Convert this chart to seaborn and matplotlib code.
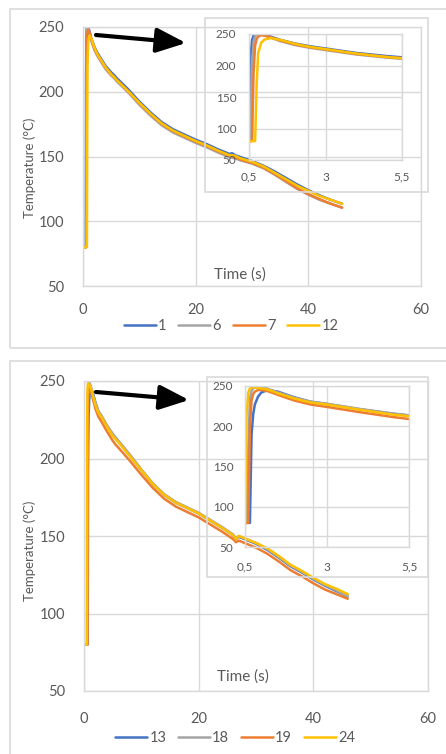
import matplotlib
matplotlib.use("Agg")
import matplotlib.pyplot as plt
from matplotlib.patches import Rectangle, ArrowStyle
import pandas as pd
import seaborn as sns

sns.set_theme(style="white")
plt.rcParams["font.family"] = ["Lato", "DejaVu Sans"]

# time (s), shared by every probe
time = [0, 0.5, 0.55, 0.6, 0.65, 0.7, 0.75, 0.8, 0.9, 1.0,
        1.2, 1.5, 2.0, 2.5, 3.0, 4.0, 5.0, 5.5, 6, 8,
        10, 12, 14, 16, 18, 20, 22, 24, 26, 26.5,
        27, 28, 30, 32, 34, 36, 38, 40, 42, 44, 46]

# top chart: probes 1, 6, 7, 12
t1 = [80, 80, 215, 240, 248, 250, 250, 250, 250, 249,
      246, 241, 235, 230.5, 227, 220, 215, 213, 210.5, 202,
      192.5, 184, 176.5, 171, 167, 163, 159.5, 155.5, 152, 152.5,
      151, 149.5, 146.5, 143, 138.5, 133.5, 128.5, 124, 120, 116.5, 113.5]
t6 = [80, 80, 80, 200, 238, 246, 249, 249.5, 249, 248,
      244.5, 239, 232.5, 228, 224.5, 217.5, 212.5, 210.5, 208, 199.5,
      190, 181.5, 174, 168.5, 164.5, 160.5, 157, 153, 149.5, 149,
      148.5, 147, 144.5, 141, 136, 130.5, 125, 120.5, 116.5, 113.5, 110.5]
t7 = [80, 80, 80, 80, 190, 232, 242, 246, 248, 247.5,
      245, 240, 233.5, 229, 225.5, 218.5, 213.5, 211.5, 209, 200.5,
      191, 182.5, 175, 169.5, 165.5, 161.5, 158, 154, 150.5, 150,
      149.5, 147.5, 145, 141.5, 136.5, 131, 125.5, 121, 117, 113.5, 110.5]
t12 = [80, 80, 80, 80, 80, 80, 170, 220, 236, 241,
       243.5, 241, 234.5, 229.5, 226, 219, 213.5, 211.5, 209, 200.5,
       191.5, 183, 175.5, 170, 166, 162, 158.5, 154.5, 151, 151,
       150.5, 148.5, 146, 142.5, 137.5, 132.5, 127.5, 123.5, 119.5, 116.5, 113.5]

# bottom chart: probes 13, 18, 19, 24
b13 = [80, 80, 80, 80, 80, 190, 215, 227, 237, 242,
       245, 243, 236, 230.5, 227.5, 221, 215.5, 213.5, 211, 202,
       192.5, 183.5, 176.5, 171.5, 168, 164.5, 160, 155.5, 150.5, 148,
       149.5, 148, 145, 141, 136, 130.5, 126.5, 122, 118, 114.5, 111]
b18 = [80, 80, 80, 170, 235, 244, 247, 248.5, 249, 248.5,
       246.5, 242, 235.5, 230.5, 228, 221.5, 216, 213.5, 211.5, 202.5,
       193, 184, 177, 172, 168.5, 165, 160.5, 156, 151, 148.5,
       150, 148.5, 145.5, 141.5, 136.5, 131, 127, 122.5, 118.5, 115, 111]
b19 = [80, 80, 80, 80, 200, 232, 240, 243, 245, 245,
       243.5, 239, 232, 227, 224, 217.5, 211.5, 209, 207, 198.5,
       189.5, 181, 174, 169, 165.5, 162, 157.5, 153, 148, 146,
       147, 145.5, 142.5, 138.5, 133.5, 128, 124, 119.5, 115.5, 112.5, 109.5]
b24 = [80, 80, 215, 242, 247, 248.5, 248.5, 248, 247.5, 247,
       245.5, 241, 234.5, 229.5, 227, 220.5, 214.5, 212.5, 210.5, 201.5,
       192.5, 183.5, 176.5, 171.5, 168, 164.5, 160, 155.5, 150.5, 148,
       150, 148.5, 145.5, 142, 137, 131.5, 127.5, 123, 119, 116, 112.5]

colors = ["#4472C4", "#A5A5A5", "#ED7D31", "#FFC000"]
top_names = ["1", "6", "7", "12"]
bottom_names = ["13", "18", "19", "24"]
main_xticks = [0, 20, 40, 60]
main_yticks = [50, 100, 150, 200, 250]
inset_xticks = [0.5, 3, 5.5]
inset_xlabels = ["0,5", "3", "5,5"]

W, H = 446, 754
grey_txt = "#595959"
grid_c = "#d9d9d9"


def fr(x0, y0, x1, y1):
    # pixel box (from the top-left corner) -> figure fraction rect
    return [x0 / W, 1 - y1 / H, (x1 - x0) / W, (y1 - y0) / H]


def long_df(names, series):
    rows = []
    for n, vals in zip(names, series):
        for t, v in zip(time, vals):
            rows.append((t, v, n))
    return pd.DataFrame(rows, columns=["time", "temp", "probe"])


def style_ax(ax, xpad, ypad, size):
    for s in ax.spines.values():
        s.set_color(grid_c)
        s.set_linewidth(1)
    ax.grid(True, color=grid_c, lw=1)
    ax.set_axisbelow(True)
    ax.tick_params(length=0, labelsize=size, colors=grey_txt)
    ax.tick_params(axis="x", pad=xpad)
    ax.tick_params(axis="y", pad=ypad)
    ax.set_xlabel("")
    ax.set_ylabel("")


fig = plt.figure(figsize=(W / 100, H / 100), dpi=100)

panels = [
    dict(names=top_names, series=[t1, t6, t7, t12], border=(10, 9, 460, 348),
         main=(83, 27, 421, 286), box=(205, 18, 428, 192), inset=(249, 34, 402, 160),
         xpad=12, ipadx=8.5, ipady=9, arrow=((96, 35), (186, 43)),
         ylab=(30, 168), tlab=0.465, leg=(231, 326)),
    dict(names=bottom_names, series=[b13, b18, b19, b24], border=(10, 361, 460, 770),
         main=(84, 381, 428, 691), box=(207, 377, 428, 577), inset=(245, 386, 409, 547),
         xpad=15, ipadx=10.5, ipady=8.5, arrow=((96, 392), (189, 400)),
         ylab=(30, 551), tlab=0.462, leg=(235, 738)),
]

for p in panels:
    bx0, by0, bx1, by1 = p["border"]
    fig.patches.append(Rectangle((bx0 / W, 1 - by1 / H), (bx1 - bx0) / W, (by1 - by0) / H,
                                 transform=fig.transFigure, fill=False,
                                 edgecolor=grid_c, lw=1.2, zorder=0))
    df = long_df(p["names"], p["series"])

    ax = fig.add_axes(fr(*p["main"]))
    ax.set_facecolor("none")
    sns.lineplot(data=df, x="time", y="temp", hue="probe", hue_order=p["names"],
                 palette=colors, lw=1.8, estimator=None, sort=False,
                 legend=False, ax=ax)
    ax.set_xlim(0, 60)
    ax.set_ylim(50, 250)
    ax.set_xticks(main_xticks)
    ax.set_yticks(main_yticks)
    style_ax(ax, p["xpad"], 13.5, 10.5)
    ax.text(p["tlab"], 0.046, "Time (s)", transform=ax.transAxes, ha="center",
            va="center", fontsize=11, color=grey_txt)
    fig.text(p["ylab"][0] / W, 1 - p["ylab"][1] / H, "Temperature (°C)", rotation=90,
             ha="center", va="center", fontsize=9.5, color=grey_txt)

    fig.patches.append(Rectangle(fr(*p["box"])[:2], *fr(*p["box"])[2:],
                                 transform=fig.transFigure, fill=False,
                                 edgecolor=grid_c, lw=1.2, zorder=1))
    axi = fig.add_axes(fr(*p["inset"]))
    axi.set_facecolor("none")
    sns.lineplot(data=df, x="time", y="temp", hue="probe", hue_order=p["names"],
                 palette=colors, lw=1.8, estimator=None, sort=False,
                 legend=False, ax=axi)
    axi.set_xlim(0.5, 5.5)
    axi.set_ylim(50, 250)
    axi.set_xticks(inset_xticks)
    axi.set_xticklabels(inset_xlabels)
    axi.set_yticks(main_yticks)
    style_ax(axi, p["ipadx"], p["ipady"], 8.5)

    (sx, sy), (ex, ey) = p["arrow"]
    ax.annotate("", xy=(ex / W, 1 - ey / H), xytext=(sx / W, 1 - sy / H),
                xycoords="figure fraction", textcoords="figure fraction",
                arrowprops=dict(arrowstyle=ArrowStyle("-|>", head_length=0.6, head_width=0.25),
                                mutation_scale=30, color="black", lw=3,
                                shrinkA=0, shrinkB=0))

    fig.legend(handles=ax.get_lines()[:4], labels=p["names"], loc="center",
               bbox_to_anchor=(p["leg"][0] / W, 1 - p["leg"][1] / H), ncol=4,
               frameon=False, fontsize=10.5, handlelength=2.2, handletextpad=0.15,
               columnspacing=0.8, labelcolor=grey_txt)

fig.savefig("out.png", dpi=100)
